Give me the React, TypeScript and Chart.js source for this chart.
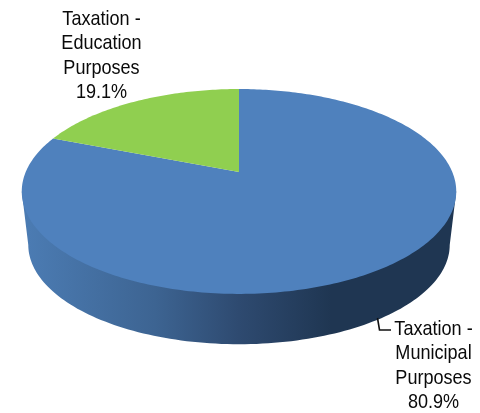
import React, { useEffect, useRef } from "react";
import Chart from "chart.js/auto";

const categories = [["Taxation -", "Municipal", "Purposes"], ["Taxation -", "Education", "Purposes"]];
const shares = [80.9, 19.1];
const faceColors = ["#4f81bd", "#90cf50"];
const wallStops: [number, string][] = [
  [0, "#4b7bb2"],
  [0.3, "#3d6492"],
  [0.5, "#2e4a70"],
  [0.72, "#1f3652"],
  [1, "#1f3652"],
];

// Tilted-disc projection: unit circle -> screen, relative to the pie centre.
const TILT = 0.19;
const SPREAD_X = 1.24;
const SPREAD_Y = 0.574;
const WALL_SCALE = 0.97;
const WALL_DROP = 54;

function project(arc: any, a: number, scale = 1, drop = 0) {
  const u = Math.cos(a);
  const v = -Math.sin(a);
  const d = 1 + TILT * v;
  const r = arc.outerRadius;
  return {
    x: arc.x + (scale * SPREAD_X * r * u) / d,
    y: arc.y - (scale * SPREAD_Y * r * v) / d + drop,
  };
}

function drawWall(ctx: CanvasRenderingContext2D, arc: any) {
  const a0 = Math.asin(TILT);
  const a1 = Math.PI - a0;
  const steps = 120;
  const left = project(arc, a1);
  const right = project(arc, a0);
  ctx.beginPath();
  ctx.moveTo(right.x, right.y);
  for (let i = 0; i <= steps; i++) {
    const p = project(arc, a0 + ((a1 - a0) * i) / steps, WALL_SCALE, WALL_DROP);
    ctx.lineTo(p.x, p.y);
  }
  ctx.lineTo(left.x, left.y);
  ctx.closePath();
  const g = ctx.createLinearGradient(left.x + 7, 0, right.x - 7, 0);
  wallStops.forEach(([o, c]) => g.addColorStop(o, c));
  ctx.fillStyle = g;
  ctx.fill();
}

function drawFace(ctx: CanvasRenderingContext2D, arc: any, color: string) {
  const steps = Math.max(4, Math.ceil((arc.endAngle - arc.startAngle) * 60));
  ctx.beginPath();
  ctx.moveTo(arc.x, arc.y);
  for (let i = 0; i <= steps; i++) {
    const a = arc.startAngle + ((arc.endAngle - arc.startAngle) * i) / steps;
    const p = project(arc, a);
    ctx.lineTo(p.x, p.y);
  }
  ctx.closePath();
  ctx.fillStyle = color;
  ctx.fill();
}

function drawLabel(ctx: CanvasRenderingContext2D, lines: string[], cx: number, firstBaseline: number) {
  ctx.save();
  ctx.fillStyle = "#0a0a0a";
  ctx.font = '21px "Liberation Sans", Arial, sans-serif';
  ctx.textAlign = "center";
  ctx.textBaseline = "alphabetic";
  lines.forEach((line, i) => {
    ctx.save();
    ctx.translate(cx, firstBaseline + i * 24.3);
    ctx.scale(0.86, 1);
    ctx.fillText(line, 0, 0);
    ctx.restore();
  });
  ctx.restore();
}

const tiltedPie = {
  id: "tiltedPie",
  beforeDatasetDraw(chart: any, args: any) {
    const ctx = chart.ctx as CanvasRenderingContext2D;
    const arcs = chart.getDatasetMeta(args.index).data;
    drawWall(ctx, arcs[0]);
    arcs.forEach((arc: any, i: number) => drawFace(ctx, arc, faceColors[i]));
    return false;
  },
  afterDraw(chart: any) {
    const ctx = chart.ctx as CanvasRenderingContext2D;
    ctx.save();
    ctx.strokeStyle = "#111111";
    ctx.lineWidth = 1.6;
    ctx.beginPath();
    ctx.moveTo(377.5, 318);
    ctx.lineTo(379.5, 330);
    ctx.lineTo(391, 330);
    ctx.stroke();
    ctx.restore();
    const pct = (v: number) => `${v.toFixed(1)}%`;
    drawLabel(ctx, [...categories[1], pct(shares[1])], 101.5, 25);
    drawLabel(ctx, [...categories[0], pct(shares[0])], 433.5, 335);
  },
};

export default function App() {
  const ref = useRef<HTMLCanvasElement>(null);
  useEffect(() => {
    const chart = new Chart(ref.current!, {
      type: "pie",
      data: {
        labels: categories.map((c) => c.join(" ")),
        datasets: [{ data: shares, backgroundColor: faceColors, borderWidth: 0 }],
      },
      options: {
        responsive: false,
        animation: false,
        layout: { padding: { right: 2, bottom: 69 } },
        plugins: { legend: { display: false }, tooltip: { enabled: false } },
      },
      plugins: [tiltedPie],
    } as any);
    return () => chart.destroy();
  }, []);
  return (
    <div style={{ position: "fixed", left: 0, top: 0, width: 480, height: 413, background: "#fff" }}>
      <canvas ref={ref} width={480} height={413} style={{ display: "block" }} />
    </div>
  );
}
